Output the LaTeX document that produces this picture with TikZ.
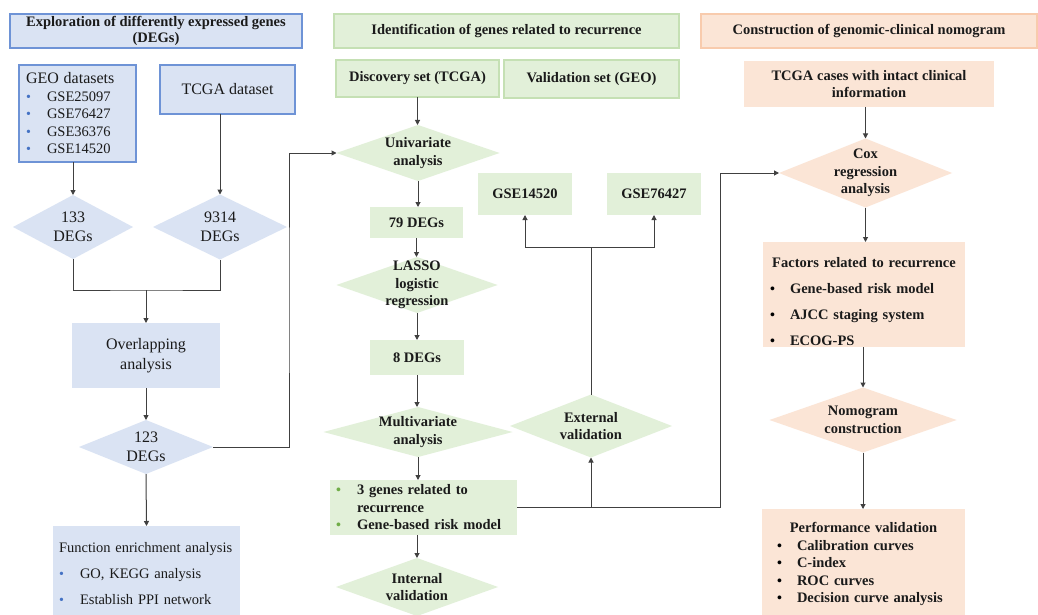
\documentclass[tikz,border=0pt]{standalone}
\usepackage{fontspec}
\setmainfont{Liberation Serif}
\usetikzlibrary{arrows.meta,shapes.geometric}
\definecolor{bfill}{HTML}{DAE3F3}
\definecolor{bborder}{HTML}{6E93D6}
\definecolor{gfill}{HTML}{E2F0D9}
\definecolor{gborder}{HTML}{C5E0B4}
\definecolor{ofill}{HTML}{FBE5D6}
\definecolor{oborder}{HTML}{F8CBAD}
\definecolor{bul}{HTML}{4472C4}
\definecolor{bulg}{HTML}{70AD47}
\definecolor{lncol}{HTML}{404040}
\definecolor{txt}{HTML}{1A1A1A}
\newcommand\fsA{\fontsize{14.5pt}{17.5pt}\selectfont}
\newcommand\fsB{\fontsize{16pt}{19.5pt}\selectfont}
\newcommand\fsH{\fontsize{14.5pt}{16.5pt}\selectfont}
\newcommand\bitem[4]{\hspace*{#1}\makebox[#2][l]{\textcolor{#3}{\fontsize{14pt}{14pt}\selectfont\textbullet}}#4}
\tikzset{
  every node/.style={inner sep=0pt, outer sep=0pt, text=txt},
  bbox/.style={rectangle, fill=bfill, draw=bborder, line width=1.1pt},
  bplain/.style={rectangle, fill=bfill},
  gbox/.style={rectangle, fill=gfill, draw=gborder, line width=1.1pt},
  gplain/.style={rectangle, fill=gfill},
  obox/.style={rectangle, fill=ofill, draw=oborder, line width=1.1pt},
  oplain/.style={rectangle, fill=ofill},
  dia/.style={diamond},
  ln/.style={draw=lncol, line width=1pt},
  arr/.style={ln, -{Triangle[width=5pt,length=5pt]}},
}
\begin{document}
\begin{tikzpicture}[x=1pt,y=-1pt]
\useasboundingbox (0,0) rectangle (1038,615);
\fill[white] (0,0) rectangle (1038,615);

% ---------------- left column ----------------
\node[bbox, minimum width=292, minimum height=34, font=\fsH\bfseries, align=center] (hA) at (156,31)
  {Exploration of differently expressed genes\\(DEGs)};
\node[bbox, minimum width=117, minimum height=97, inner xsep=7pt, text width=103pt, align=left, font=\fsA] (geo) at (77.5,113.5)
  {{\fsB GEO datasets}\\
   \bitem{0pt}{21pt}{bul}{GSE25097}\\
   \bitem{0pt}{21pt}{bul}{GSE76427}\\
   \bitem{0pt}{21pt}{bul}{GSE36376}\\
   \bitem{0pt}{21pt}{bul}{GSE14520}};
\node[bbox, minimum width=135, minimum height=49, font=\fsB] (tcga) at (227.5,89.5) {TCGA dataset};
\node[dia, fill=bfill, minimum width=120, minimum height=64,
  label={[font=\fsB, align=center]center:{133\\DEGs}}] (d133) at (73,227) {};
\node[dia, fill=bfill, minimum width=134, minimum height=65,
  label={[font=\fsB, align=center]center:{9314\\DEGs}}] (d9314) at (220,227) {};
\node[bplain, minimum width=148, minimum height=65, font=\fsB, align=center] (ovl) at (146,355.5)
  {Overlapping\\analysis};
\node[dia, fill=bfill, minimum width=134, minimum height=54,
  label={[font=\fsB, align=center]center:{123\\DEGs}}] (d123) at (146,447) {};
\node[bplain, anchor=north, minimum width=187, minimum height=96, inner xsep=6pt, text width=175pt, align=left, font=\fsA] (func) at (146.5,526)
  {Function enrichment analysis\\[8.5pt]
   \bitem{0pt}{21pt}{bul}{GO, KEGG analysis}\\[8.5pt]
   \bitem{0pt}{21pt}{bul}{Establish PPI network}};

% ---------------- middle column ----------------
\node[gbox, minimum width=345, minimum height=34, font=\fsA\bfseries] (hB) at (506.5,31)
  {Identification of genes related to recurrence};
\node[gbox, minimum width=163, minimum height=37, font=\fsA\bfseries] (disc) at (417.5,78.5) {Discovery set (TCGA)};
\node[gbox, minimum width=175, minimum height=38, font=\fsA\bfseries] (valid) at (591.5,79) {Validation set (GEO)};
\node[dia, fill=gfill, minimum width=163, minimum height=56,
  label={[font=\fsA\bfseries, align=center]center:{Univariate\\analysis}}] (univ) at (418,153) {};
\node[gplain, minimum width=93, minimum height=31, font=\fsA\bfseries] (d79) at (416.5,222.5) {79 DEGs};
\node[dia, fill=gfill, minimum width=161, minimum height=56,
  label={[font=\fsA\bfseries, align=center]center:{LASSO\\logistic\\regression}}] (lasso) at (417,285) {};
\node[gplain, minimum width=94, minimum height=35, font=\fsA\bfseries] (d8) at (417,357.5) {8 DEGs};
\node[dia, fill=gfill, minimum width=189, minimum height=50,
  label={[font=\fsA\bfseries, align=center]center:{Multivariate\\analysis}}] (multi) at (418,432) {};
\node[gplain, minimum width=187, minimum height=55, inner xsep=6pt, text width=175pt, align=left, font=\fsA\bfseries] (genes) at (423.5,507.5)
  {\bitem{0pt}{21pt}{bulg}{3 genes related to}\\
   \hspace*{21pt}recurrence\\
   \bitem{0pt}{21pt}{bulg}{Gene-based risk model}};
\node[dia, fill=gfill, minimum width=162, minimum height=58,
  label={[font=\fsA\bfseries, align=center]center:{Internal\\validation}}] (internal) at (417,587) {};
\node[dia, fill=gfill, minimum width=162, minimum height=63,
  label={[font=\fsA\bfseries, align=center]center:{External\\validation}}] (external) at (591,426) {};
\node[gplain, minimum width=94, minimum height=42, font=\fsA\bfseries] (gse1) at (525,194) {GSE14520};
\node[gplain, minimum width=94, minimum height=42, font=\fsA\bfseries] (gse2) at (654,194) {GSE76427};

% ---------------- right column ----------------
\node[obox, minimum width=336, minimum height=34, font=\fsA\bfseries] (hC) at (869,31)
  {Construction of genomic-clinical nomogram};
\node[oplain, minimum width=250, minimum height=46, font=\fsA\bfseries, align=center] (cases) at (869,84)
  {TCGA cases with intact clinical\\information};
\node[dia, fill=ofill, minimum width=173, minimum height=69,
  label={[font=\fsA\bfseries, align=center]center:{Cox\\regression\\analysis}}] (cox) at (865.5,173) {};
\node[oplain, minimum width=202, minimum height=105,
  label={[font=\fsA\bfseries, text width=188pt, align=left, yshift=-7pt]center:{%
    \makebox[\linewidth][c]{Factors related to recurrence}\\[8.5pt]
    \bitem{0pt}{20pt}{black}{Gene-based risk model}\\[8.5pt]
    \bitem{0pt}{20pt}{black}{AJCC staging system}\\[8.5pt]
    \bitem{0pt}{20pt}{black}{ECOG-PS}}}] (factors) at (864,294.5) {};
\node[dia, fill=ofill, minimum width=187, minimum height=65,
  label={[font=\fsA\bfseries, align=center]center:{Nomogram\\construction}}] (nomo) at (863,420) {};
\node[oplain, anchor=north, minimum width=203, minimum height=110, inner xsep=14pt, text width=175pt, align=left, font=\fsA\bfseries] (perf) at (863.5,509)
  {\makebox[\linewidth][c]{Performance validation}\\
   \bitem{1pt}{20pt}{black}{Calibration curves}\\
   \bitem{1pt}{20pt}{black}{C-index}\\
   \bitem{1pt}{20pt}{black}{ROC curves}\\
   \bitem{1pt}{20pt}{black}{Decision curve analysis}};

% ---------------- connectors ----------------
\draw[arr] (geo.south -| d133.north) -- (d133.north);
\draw[arr] (tcga.south -| d9314.north) -- (d9314.north);
\coordinate (mg) at (146,290);
\draw[ln] (d133.south) |- (mg) -| (d9314.south);
\draw[arr] (mg) -- (ovl.north);
\draw[arr] (ovl.south) -- (d123.north);
\draw[arr] (d123.south) -- (func.north);
\coordinate (jx) at (289,300);
\draw[arr] (d123.east) -| (jx) |- (univ.west);

\draw[arr] (disc.south) -- (disc.south |- univ.north);
\draw[arr] (univ.south) -- (univ.south |- d79.north);
\draw[arr] (d79.south) -- (d79.south |- lasso.north);
\draw[arr] (lasso.south) -- (lasso.south |- d8.north);
\draw[arr] (d8.south) -- (d8.south |- multi.north);
\draw[arr] (multi.south) -- (multi.south |- genes.north);
\draw[arr] (genes.south -| internal.north) -- (internal.north);
\coordinate (jr) at (720,300);
\draw[arr] (genes.east) -| (jr) |- (cox.west);
\draw[arr] (genes.east -| external.south) -- (external.south);
\coordinate (sp) at (591,247);
\draw[ln] (external.north) -- (sp);
\draw[arr] (sp) -| (gse1.south);
\draw[arr] (sp) -| (gse2.south);

\draw[arr] (cases.south -| cox.north) -- (cox.north);
\draw[arr] (cox.south) -- (cox.south |- factors.north);
\draw[arr] (factors.south -| nomo.north) -- (nomo.north);
\draw[arr] (nomo.south) -- (nomo.south |- perf.north);
\end{tikzpicture}
\end{document}
